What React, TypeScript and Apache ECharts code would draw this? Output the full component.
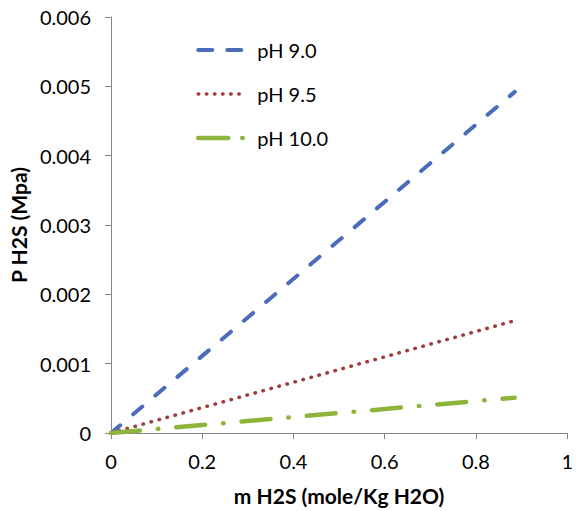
import React, { useEffect, useRef } from "react";
import * as echarts from "echarts";

const seriesNames = ["pH 9.0", "pH 9.5", "pH 10.0"];
const xValues = [0, 0.885];
const ph90 = [0, 0.00492];
const ph95 = [0, 0.00162];
const ph100 = [0, 0.00051];
const xTicks = ["0", "0.2", "0.4", "0.6", "0.8", "1"];
const yTicks = ["0", "0.001", "0.002", "0.003", "0.004", "0.005", "0.006"];

const FONT = "Lato, 'Open Sans', sans-serif";
const BLUE = "#4a6cb9";
const RED = "#a33a3a";
const GREEN = "#8db53c";

export default function App() {
  const ref = useRef<HTMLDivElement>(null);
  useEffect(() => {
    if (!ref.current) return;
    document.body.style.margin = "0";
    const chart = echarts.init(ref.current, undefined, { renderer: "svg" });
    const mk = (vals: number[]) => xValues.map((x, i) => [x, vals[i]]);
    const axisLine = { show: true, lineStyle: { color: "#868686", width: 1 } };
    const blueLine = { color: BLUE, width: 4, type: [12, 17], cap: "round" };
    const redLine = { color: RED, width: 3.5, type: [0.5, 7.8], cap: "round" };
    const greenLine = { color: GREEN, width: 4.5, type: [29, 18, 0.5, 18], cap: "round" };
    chart.setOption({
      animation: false,
      backgroundColor: "#fff",
      grid: { left: 110, right: 4, top: 17, bottom: 76, containLabel: false },
      legend: {
        orient: "vertical",
        left: 191,
        top: 35,
        itemWidth: 46,
        itemHeight: 24,
        itemGap: 24,
        itemStyle: { opacity: 0 },
        textStyle: { fontFamily: FONT, fontSize: 20, color: "#000", padding: [0, 0, 0, 8] },
        data: [
          { name: seriesNames[0], lineStyle: { width: 4, type: [14, 15], cap: "round" } },
          { name: seriesNames[1], lineStyle: { width: 3.5, type: [0.5, 7.6], cap: "round" } },
          { name: seriesNames[2], lineStyle: { width: 4.5, type: [30, 14, 0.5, 14], cap: "round" } },
        ],
      },
      xAxis: {
        type: "value",
        min: 0,
        max: 1,
        interval: 0.2,
        name: "m H2S (mole/Kg H2O)",
        nameLocation: "middle",
        nameGap: 52,
        nameTextStyle: { fontFamily: FONT, fontSize: 21, fontWeight: "bold", color: "#000" },
        axisLine,
        axisTick: { show: true, length: 6, inside: false, lineStyle: { color: "#868686" } },
        splitLine: { show: false },
        axisLabel: {
          fontFamily: FONT,
          fontSize: 20,
          color: "#000",
          margin: 18,
          formatter: (v: number) => xTicks[Math.round(v / 0.2)],
        },
      },
      yAxis: {
        type: "value",
        min: 0,
        max: 0.006,
        interval: 0.001,
        name: "P H2S (Mpa)",
        nameLocation: "middle",
        nameGap: 79,
        nameRotate: 90,
        nameTextStyle: { fontFamily: FONT, fontSize: 21, fontWeight: "bold", color: "#000" },
        axisLine,
        axisTick: { show: true, length: 6, inside: false, lineStyle: { color: "#868686" } },
        splitLine: { show: false },
        axisLabel: {
          fontFamily: FONT,
          fontSize: 20,
          color: "#000",
          margin: 20,
          formatter: (v: number) => yTicks[Math.round(v / 0.001)],
        },
      },
      series: [
        { name: seriesNames[0], type: "line", data: mk(ph90), symbol: "none", color: BLUE, lineStyle: blueLine },
        { name: seriesNames[1], type: "line", data: mk(ph95), symbol: "none", color: RED, lineStyle: redLine },
        { name: seriesNames[2], type: "line", data: mk(ph100), symbol: "none", color: GREEN, lineStyle: greenLine },
      ],
    });
    return () => chart.dispose();
  }, []);
  return <div ref={ref} style={{ width: 576, height: 511, position: "absolute", left: 0, top: 0 }} />;
}
